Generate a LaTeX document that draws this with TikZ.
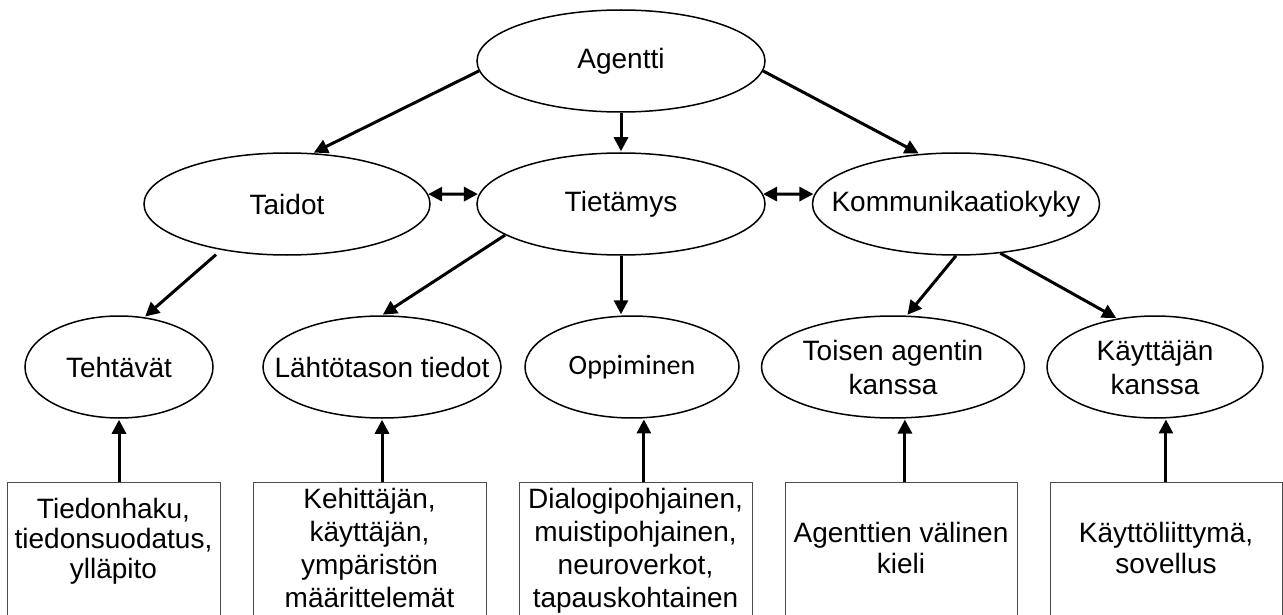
\documentclass[tikz,border=0pt]{standalone}
\usepackage{fontspec}
\setmainfont{Liberation Sans}
\newfontfamily\calibri{Carlito}
\usetikzlibrary{arrows.meta, positioning, shapes.geometric}

\begin{document}
\begin{tikzpicture}[x=1pt, y=1pt, >={Triangle[length=14pt,width=14pt]}, shorten >=1pt,
    kasite/.style={ellipse, draw, line width=1.5pt, inner ysep=0pt, inner xsep=-40pt, minimum height=102pt,
                   align=center, font=\fontsize{28}{34}\selectfont},
    laatikko/.style={rectangle, draw=black!70, line width=1pt, inner sep=0pt, minimum height=134pt,
                     align=center, font=\fontsize{28}{33}\selectfont},
    nuoli/.style={->, line width=3pt}]

    \useasboundingbox (0,0) rectangle (1283,-615);

    \node[kasite, minimum width=288pt] (agentti) at (621,-61) {Agentti};
    \node[kasite, minimum width=288pt, node distance=143pt] (tietamys) [below of=agentti] {Tietämys};
    \node[kasite, minimum width=286pt, node distance=334pt] (taidot) [left of=tietamys] {Taidot};
    \node[kasite, minimum width=287pt, node distance=335pt] (kommunikaatio) [right of=tietamys] {Kommunikaatiokyky};

    \node[kasite, minimum width=214pt, node distance=163pt, font=\calibri\fontsize{28}{34}\selectfont] (oppiminen) [below of=tietamys, xshift=11pt] {Oppiminen};
    \node[kasite, minimum width=238pt, node distance=250pt] (lahtotaso) [left of=oppiminen] {Lähtötason tiedot};
    \node[kasite, minimum width=188pt, node distance=263pt] (tehtavat) [left of=lahtotaso] {Tehtävät};
    \node[kasite, minimum width=263pt, node distance=261pt] (toisen) [right of=oppiminen] {Toisen agentin\\kanssa};
    \node[kasite, minimum width=216pt, node distance=262pt] (kayttaja) [right of=toisen] {Käyttäjän\\kanssa};

    \node[laatikko, minimum width=213pt, node distance=182pt, text depth=21pt,
          font=\fontsize{28}{30}\selectfont] (haku) [below of=tehtavat, xshift=-5.5pt]
          {Tiedonhaku,\\tiedonsuodatus,\\ylläpito};
    \node[laatikko, minimum width=233pt, node distance=182pt, text depth=3pt] (maarittely) [below of=lahtotaso, xshift=-12.5pt]
          {Kehittäjän,\\käyttäjän,\\ympäristön\\määrittelemät};
    \node[laatikko, minimum width=233pt, node distance=182pt, text depth=3pt] (menetelma) [below of=oppiminen, xshift=3.5pt]
          {Dialogipohjainen,\\muistipohjainen,\\neuroverkot,\\tapauskohtainen};
    \node[laatikko, minimum width=232pt, node distance=182pt, text depth=3pt,
          font=\fontsize{28}{31}\selectfont] (kieli) [below of=toisen, xshift=8pt]
          {Agenttien välinen\\kieli};
    \node[laatikko, minimum width=232pt, node distance=182pt, text depth=3pt,
          font=\fontsize{28}{31}\selectfont] (sovellus) [below of=kayttaja, xshift=11pt]
          {Käyttöliittymä,\\sovellus};

    \path[nuoli]
    (agentti.184) edge (taidot.63)
    (agentti) edge (tietamys)
    (agentti.356) edge (kommunikaatio.126)
    (taidot.4) edge[<->] (tietamys.176)
    (tietamys.4) edge[<->] (kommunikaatio.176)
    (taidot.215) edge[shorten <=7pt] (tehtavat.63)
    (tietamys.195) edge (lahtotaso.north)
    (tietamys.south) edge (tietamys.south |- oppiminen.north)
    (kommunikaatio.south) edge (toisen.75)
    (kommunikaatio.312) edge (kayttaja.128)
    (tehtavat.south |- haku.north) edge (tehtavat.south)
    (lahtotaso.south |- maarittely.north) edge (lahtotaso.south)
    (oppiminen.283 |- menetelma.north) edge (oppiminen.283)
    (toisen.283 |- kieli.north) edge (toisen.283)
    (kayttaja.282 |- sovellus.north) edge (kayttaja.282)
    ;
\end{tikzpicture}
\end{document}
